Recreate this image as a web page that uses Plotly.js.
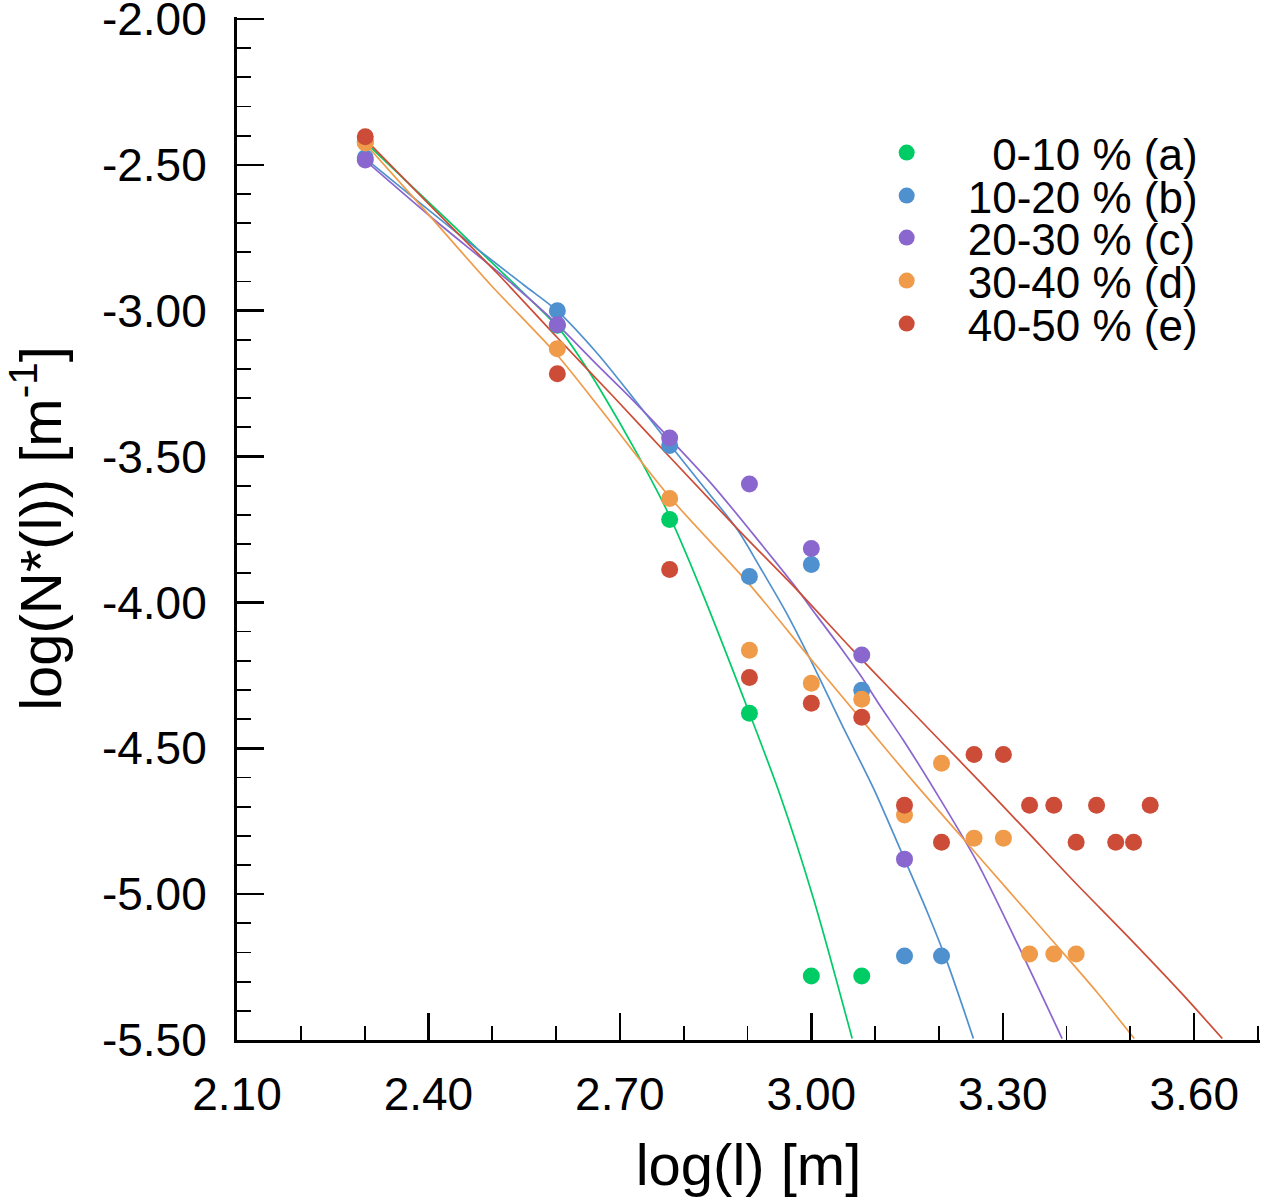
<!DOCTYPE html>
<html>
<head>
<meta charset="utf-8">
<script src="https://cdn.plot.ly/plotly-3.0.1.min.js"></script>
<style>
	body { margin: 0; background: white; }
	#graph { width: 1262px; height: 1202px; }
</style>
</head>
<body>
<div id="graph"></div>
<script>
// log(l) of the length classes, shared by all five series
const log_l = [2.301, 2.602, 2.778, 2.903, 3.000, 3.079, 3.146, 3.204, 3.255, 3.301, 3.342, 3.380, 3.415, 3.447, 3.477, 3.505, 3.531];

const series_names = ['\u00a0\u00a00-10 % (a)', '10-20 % (b)', '20-30 % (c)', '30-40 % (d)', '40-50 % (e)'];
const series_colors = ['#00cc66', '#4f91cf', '#8a66cf', '#ef9b4a', '#cc4c37'];

// log(N*(l)) read per series
const pts_a = [-2.420, -3.050, -3.716, -4.380, -5.281, -5.281];
const pts_b = [-2.476, -3.000, -3.462, -3.911, -3.870, -4.301, -5.212, -5.212];
const pts_c = [-2.483, -3.048, -3.436, -3.594, -3.815, -4.180, -4.880];
const pts_d = [-2.425, -3.130, -3.644, -4.164, -4.277, -4.332, -4.729, -4.551, -4.808, -4.808, -5.205, -5.205, -5.205];
const pts_e = [-2.404, -3.216, -3.887, -4.257, -4.346, -4.394, -4.695, -4.822, -4.521, -4.521, -4.695, -4.695, -4.822, -4.695, -4.822, -4.822, -4.695];

// fitted curves, sampled along each line
const fit_a_x = [2.300, 2.413, 2.473, 2.540, 2.606, 2.640, 2.669, 2.727, 2.777, 2.826, 2.903, 2.951, 3.004, 3.064];
const fit_a_y = [-2.420, -2.654, -2.780, -2.920, -3.065, -3.170, -3.270, -3.490, -3.700, -3.950, -4.380, -4.660, -5.020, -5.495];

const fit_b_x = [2.300, 2.455, 2.549, 2.601, 2.664, 2.721, 2.777, 2.826, 2.884, 2.920, 2.962, 3.004, 3.048, 3.098, 3.146, 3.182, 3.213, 3.254];
const fit_b_y = [-2.476, -2.751, -2.911, -2.999, -3.145, -3.299, -3.455, -3.590, -3.750, -3.881, -4.040, -4.220, -4.420, -4.640, -4.880, -5.063, -5.234, -5.495];

const fit_c_x = [2.300, 2.403, 2.533, 2.601, 2.664, 2.714, 2.777, 2.847, 2.920, 2.972, 3.009, 3.048, 3.077, 3.108, 3.145, 3.202, 3.260, 3.317, 3.393];
const fit_c_y = [-2.483, -2.677, -2.911, -3.045, -3.185, -3.293, -3.436, -3.602, -3.796, -3.938, -4.047, -4.161, -4.250, -4.355, -4.475, -4.675, -4.891, -5.143, -5.495];

const fit_d_x = [2.300, 2.392, 2.497, 2.601, 2.669, 2.777, 2.903, 3.004, 3.087, 3.161, 3.234, 3.307, 3.380, 3.448, 3.506];
const fit_d_y = [-2.425, -2.650, -2.910, -3.150, -3.335, -3.636, -3.938, -4.207, -4.424, -4.617, -4.800, -4.983, -5.165, -5.337, -5.495];

const fit_e_x = [2.300, 2.403, 2.507, 2.601, 2.690, 2.777, 2.894, 2.972, 3.064, 3.124, 3.197, 3.265, 3.338, 3.411, 3.495, 3.579, 3.644];
const fit_e_y = [-2.410, -2.640, -2.870, -3.090, -3.295, -3.499, -3.770, -3.944, -4.161, -4.298, -4.463, -4.617, -4.785, -4.955, -5.143, -5.337, -5.495];

// the ranges run a hair past the end ticks so plotly keeps those ticks
const x_range = [2.1, 3.7031];
const y_range = [-5.5, -1.9932];

// y labels keep the plain hyphen of the original
const y_tick_vals = [-5.5, -5.0, -4.5, -4.0, -3.5, -3.0, -2.5, -2.0];
const y_tick_text = ['-5.50', '-5.00', '-4.50', '-4.00', '-3.50', '-3.00', '-2.50', '-2.00'];

const font_family = '"Liberation Sans", Arial, sans-serif';

// centre of each legend row, in pixels from the top of the page
const legend_rows = [153, 196, 238, 281, 324];

const plot_top = 17;
const plot_bottom = 1040;

const points = [pts_a, pts_b, pts_c, pts_d, pts_e];
const fits = [[fit_a_x, fit_a_y], [fit_b_x, fit_b_y], [fit_c_x, fit_c_y], [fit_d_x, fit_d_y], [fit_e_x, fit_e_y]];

const traces = [];

for(let k = 0; k < fits.length; k++) {
	const [fx, fy] = fits[k];
	traces.push({
		x: fx, y: fy,
		type: 'scatter', mode: 'lines',
		line: {color: series_colors[k], width: 1.7, shape: 'spline', smoothing: 0.8},
		showlegend: false,
		hoverinfo: 'skip',
	});
}

for(let k = 0; k < points.length; k++) {
	const ys = points[k];
	traces.push({
		x: log_l.slice(0, ys.length), y: ys,
		type: 'scatter', mode: 'markers',
		name: series_names[k],
		marker: {color: series_colors[k], size: 17},
		legend: k == 0 ? 'legend' : 'legend' + (k + 1),
	});
}

function legendAt(row) {
	const y = (plot_bottom - row) / (plot_bottom - plot_top);
	return {
		x: 0.595, xanchor: 'left',
		y: y, yanchor: 'middle',
		bgcolor: 'rgba(0,0,0,0)',
		borderwidth: 0,
		itemwidth: 112,
		font: {family: font_family, size: 44, color: 'black'},
	};
}

const axis_common = {
	showline: true, linecolor: 'black', linewidth: 3,
	showgrid: false, zeroline: false,
	ticks: 'inside', ticklen: 27, tickwidth: 2.5, tickcolor: 'black',
	tickfont: {family: font_family, size: 46, color: 'black'},
	ticklabeloverflow: 'allow',
	mirror: false,
	fixedrange: true,
};

const minor_common = {ticks: 'inside', ticklen: 14, tickwidth: 1.8, tickcolor: 'black', showgrid: false};

const layout = {
	width: 1262, height: 1202,
	margin: {l: 237, r: 2, t: plot_top, b: 1202 - plot_bottom},
	paper_bgcolor: 'white', plot_bgcolor: 'white',
	font: {family: font_family, color: 'black'},
	xaxis: Object.assign({}, axis_common, {
		range: x_range, tick0: 2.1, dtick: 0.3,
		tickformat: '.2f',
		ticklabelstandoff: 12,
		minor: Object.assign({}, minor_common, {tick0: 2.1, dtick: 0.1}),
		title: {text: 'log(l) [m]', font: {family: font_family, size: 58, color: 'black'}, standoff: 26},
	}),
	yaxis: Object.assign({}, axis_common, {
		range: y_range,
		tickmode: 'array', tickvals: y_tick_vals, ticktext: y_tick_text,
		ticklabelstandoff: 18,
		minor: Object.assign({}, minor_common, {tickmode: 'linear', tick0: -2.0, dtick: 0.1}),
		title: {text: 'log(N*(l)) [m<sup>-1</sup>]', font: {family: font_family, size: 58, color: 'black'}, standoff: 32},
	}),
	legend: legendAt(legend_rows[0]),
	legend2: legendAt(legend_rows[1]),
	legend3: legendAt(legend_rows[2]),
	legend4: legendAt(legend_rows[3]),
	legend5: legendAt(legend_rows[4]),
};

Plotly.newPlot('graph', traces, layout, {displayModeBar: false, staticPlot: true});
</script>
</body>
</html>
